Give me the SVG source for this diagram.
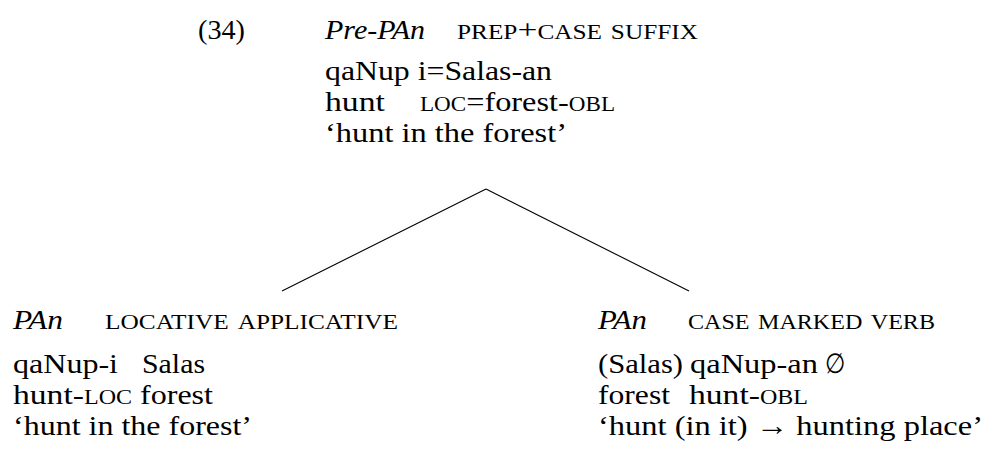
<svg xmlns="http://www.w3.org/2000/svg" width="985" height="451" viewBox="0 0 985 451">
<style>
text{font-family:"Liberation Serif","DejaVu Serif",serif;font-size:28px;fill:#000}
.it{font-style:italic}
.sc{font-variant:small-caps}
line{stroke:#000;stroke-width:1.1}
</style>
<rect width="985" height="451" fill="#fff"/>
<g id="exnum"><text x="198" y="39" textLength="47" lengthAdjust="spacingAndGlyphs">(34)</text></g>
<g id="connectors">
<line x1="486" y1="189" x2="282" y2="291"/>
<line x1="486" y1="189" x2="689" y2="291"/>
</g>
<g id="node-prepan">
<text class="it" x="325" y="39" textLength="100" lengthAdjust="spacingAndGlyphs">Pre-PAn</text>
<text class="sc" x="457" y="39" textLength="241" lengthAdjust="spacingAndGlyphs">prep+case suffix</text>
<text x="325" y="80" textLength="227" lengthAdjust="spacingAndGlyphs">qaNup i=Salas-an</text>
<text x="325" y="111" textLength="60" lengthAdjust="spacingAndGlyphs">hunt</text>
<text x="420" y="111" textLength="195" lengthAdjust="spacingAndGlyphs"><tspan class="sc">loc</tspan>=forest-<tspan class="sc">obl</tspan></text>
<text x="325" y="142" textLength="242" lengthAdjust="spacingAndGlyphs">‘hunt in the forest’</text>
</g>
<g id="node-locative">
<text class="it" x="13" y="329" textLength="50" lengthAdjust="spacingAndGlyphs">PAn</text>
<text class="sc" x="105" y="329" textLength="293" lengthAdjust="spacingAndGlyphs">locative applicative</text>
<text x="13" y="373" textLength="105" lengthAdjust="spacingAndGlyphs">qaNup-i</text>
<text x="142" y="373" textLength="63" lengthAdjust="spacingAndGlyphs">Salas</text>
<text x="13" y="404" textLength="119" lengthAdjust="spacingAndGlyphs">hunt-<tspan class="sc">loc</tspan></text>
<text x="140" y="404" textLength="73" lengthAdjust="spacingAndGlyphs">forest</text>
<text x="13" y="435" textLength="239" lengthAdjust="spacingAndGlyphs">‘hunt in the forest’</text>
</g>
<g id="node-casemarked">
<text class="it" x="598" y="329" textLength="49" lengthAdjust="spacingAndGlyphs">PAn</text>
<text class="sc" x="688" y="329" textLength="247" lengthAdjust="spacingAndGlyphs">case marked verb</text>
<text x="598" y="373" textLength="85" lengthAdjust="spacingAndGlyphs">(Salas)</text>
<text x="690" y="373" textLength="128" lengthAdjust="spacingAndGlyphs">qaNup-an</text>
<text x="825" y="373" textLength="20" lengthAdjust="spacingAndGlyphs">∅</text>
<text x="598" y="404" textLength="72" lengthAdjust="spacingAndGlyphs">forest</text>
<text x="689" y="404" textLength="119" lengthAdjust="spacingAndGlyphs">hunt-<tspan class="sc">obl</tspan></text>
<text x="598" y="435" textLength="385" lengthAdjust="spacingAndGlyphs">‘hunt (in it) → hunting place’</text>
</g>
</svg>
